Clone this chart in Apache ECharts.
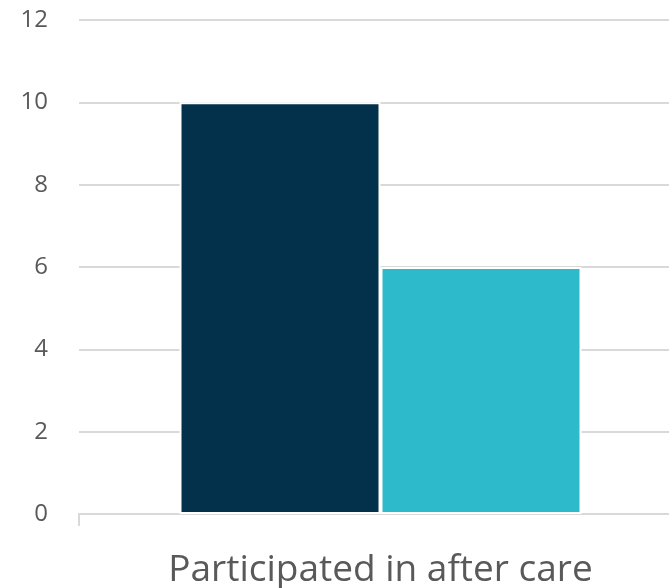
<!DOCTYPE html>
<html>
<head>
<meta charset="utf-8">
<script src="https://cdn.jsdelivr.net/npm/echarts@6/dist/echarts.min.js"></script>
<style>
  html, body { margin: 0; padding: 0; background: #ffffff; }
  #chart { width: 669px; height: 588px; }
</style>
</head>
<body>
<div id="chart"></div>
<script>
// Chart data
const categories = ['Participated in after care'];
const seriesA = [10];
const seriesB = [6];
const yTicks = { min: 0, max: 12, interval: 2 };

const chart = echarts.init(document.getElementById('chart'), null, { renderer: 'canvas' });

chart.setOption({
  animation: false,
  backgroundColor: '#ffffff',
  // plot area runs a little past the right edge of the canvas
  grid: { left: 79, width: 603, top: 20, bottom: 74, containLabel: false, outerBoundsMode: 'none' },
  xAxis: {
    type: 'category',
    data: categories,
    axisLine: { show: true, lineStyle: { color: '#d9d9d9', width: 2 } },
    axisTick: { show: true, length: 12, lineStyle: { color: '#d9d9d9', width: 2 } },
    axisLabel: {
      color: '#595959',
      fontFamily: 'Open Sans',
      fontSize: 37,
      margin: 38
    }
  },
  yAxis: {
    type: 'value',
    min: yTicks.min,
    max: yTicks.max,
    interval: yTicks.interval,
    axisLine: { show: false },
    axisTick: { show: false },
    splitLine: { lineStyle: { color: '#d9d9d9', width: 2 } },
    axisLabel: {
      color: '#595959',
      fontFamily: 'Open Sans',
      fontSize: 24,
      margin: 31
    }
  },
  series: [
    {
      type: 'bar',
      data: seriesA,
      barWidth: 201,
      barGap: '0%',
      itemStyle: { color: '#03304A', borderColor: '#ffffff', borderWidth: 2 }
    },
    {
      type: 'bar',
      data: seriesB,
      barWidth: 201,
      itemStyle: { color: '#2DBBCB', borderColor: '#ffffff', borderWidth: 2 }
    }
  ]
});
</script>
</body>
</html>
